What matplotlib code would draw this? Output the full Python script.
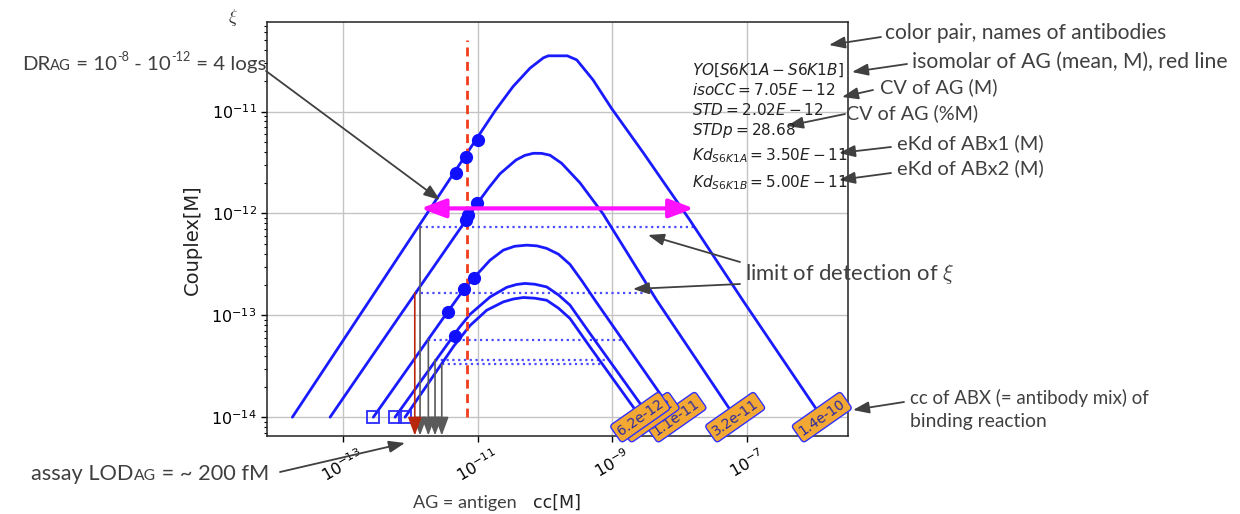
import numpy as np
import matplotlib
matplotlib.use("Agg")
import matplotlib.pyplot as plt
from matplotlib.ticker import FixedLocator, LogLocator, NullLocator

plt.rcParams["mathtext.rm"] = "Lato"
plt.rcParams["mathtext.it"] = "Lato:italic"
plt.rcParams["mathtext.bf"] = "Lato:bold"
plt.rcParams["mathtext.sf"] = "Lato"

# ---------------- data (log10 values) ----------------
curve_labels = ["1.4e-10", "3.2e-11", "1.1e-11", "8.2e-12", "6.2e-12"]

c1_lx = [-13.744, -11.748, -10.741, -10.474, -10.222, -10.025, -9.951, -9.670, -9.530,
         -9.289, -9.012, -8.548, -7.859, -7.062, -6.000, -5.898]
c1_ly = [-14.000, -12.000, -10.993, -10.754, -10.573, -10.472, -10.452, -10.452, -10.492,
         -10.688, -10.970, -11.400, -12.060, -12.860, -13.901, -14.000]

c2_lx = [-13.185, -12.200, -11.170, -11.003, -10.830, -10.667, -10.430, -10.300, -10.172,
         -10.050, -9.926, -9.754, -9.481, -9.144, -8.345, -7.284, -7.182]
c2_ly = [-14.000, -13.050, -12.065, -11.901, -11.745, -11.610, -11.475, -11.430, -11.409,
         -11.410, -11.428, -11.507, -11.700, -12.000, -12.852, -13.901, -14.000]

c3_lx = [-12.544, -11.444, -11.200, -11.059, -10.815, -10.618, -10.450, -10.271, -10.120,
         -9.975, -9.800, -9.630, -9.450, -9.259, -8.296, -8.053]
c3_ly = [-14.000, -12.967, -12.743, -12.635, -12.459, -12.360, -12.322, -12.311, -12.318,
         -12.343, -12.400, -12.500, -12.665, -12.852, -13.769, -14.000]

c4_lx = [-12.222, -11.270, -11.111, -10.815, -10.567, -10.420, -10.296, -10.150, -9.975,
         -9.800, -9.630, -9.333, -8.593, -8.450]
c4_ly = [-14.000, -13.120, -12.990, -12.820, -12.725, -12.697, -12.687, -12.695, -12.721,
         -12.800, -12.900, -13.179, -13.864, -14.000]

c5_lx = [-12.074, -11.350, -11.111, -10.864, -10.618, -10.470, -10.321, -10.150, -9.975,
         -9.800, -9.630, -9.333, -8.692, -8.590]
c5_ly = [-14.000, -13.300, -13.100, -12.950, -12.868, -12.840, -12.825, -12.832, -12.852,
         -12.930, -13.031, -13.311, -13.901, -14.000]

# filled markers (isomolar points) and open squares (curve starts)
dot_lx = [-11.321, -11.173, -10.987, -11.170, -11.136, -11.003, -11.444, -11.200, -11.059, -11.333]
dot_ly = [-11.606, -11.448, -11.279, -12.065, -12.016, -11.901, -12.967, -12.743, -12.635, -13.205]
sq_lx = [-12.544, -12.222, -12.074]
sq_ly = [-14.0, -14.0, -14.0]

# limit-of-detection levels and their crossings
lod_ly = [-12.131, -12.780, -13.238, -13.435, -13.480]
lod_left = [-11.852, -11.930, -11.729, -11.630, -11.530]
lod_right = [-7.757, -8.501, -8.855, -9.080, -9.144]

# dynamic range arrow
dr_lx = [-11.841, -7.794]
dr_ly = -11.950

# statistics
pair_name = "YO[S6K1A-S6K1B]"
iso_cc = 7.05e-12
iso_top_ly = -10.295
std_cc = 2.02e-12
std_p = 28.68
kd_a = 3.50e-11
kd_b = 5.00e-11

x_ticks_log = [-13, -11, -9, -7]
y_ticks_log = [-14, -13, -12, -11]

# ---------------- figure ----------------
W, H = 1240, 514
fig = plt.figure(figsize=(W / 100, H / 100), dpi=100)
L, R, T, B = 267, 848, 22, 435.5
ax = fig.add_axes([L / W, 1 - B / H, (R - L) / W, (B - T) / H])
ax.set_xscale("log")
ax.set_yscale("log")
ax.set_xlim(10 ** -14.12, 10 ** -5.51)
ax.set_ylim(10 ** -14.18, 10 ** -10.12)

ax.xaxis.set_major_locator(FixedLocator(10.0 ** np.array(x_ticks_log)))
ax.xaxis.set_minor_locator(NullLocator())
ax.yaxis.set_major_locator(FixedLocator(10.0 ** np.array(y_ticks_log)))
ax.yaxis.set_minor_locator(LogLocator(base=10, subs=np.arange(2, 10), numticks=20))
ax.tick_params(axis="both", which="major", labelsize=11.5, length=4, width=1)
ax.tick_params(axis="y", which="minor", length=2.5, width=0.8)
ax.tick_params(axis="x", labelrotation=30)
ax.grid(True, which="major", color="#c4c4c4", lw=1.0)
ax.set_axisbelow(True)
for s in ax.spines.values():
    s.set_linewidth(1.1)
    s.set_color("#222222")

BLUE = "#1a1aff"
curves = [(c1_lx, c1_ly), (c2_lx, c2_ly), (c3_lx, c3_ly), (c4_lx, c4_ly), (c5_lx, c5_ly)]
for i, ((lx, ly), lab) in enumerate(zip(curves, curve_labels)):
    x = 10.0 ** np.array(lx)
    y = 10.0 ** np.array(ly)
    ax.plot(x, y, color=BLUE, lw=2.0, zorder=3, solid_capstyle="round")
    ax.text(x[-1], y[-1], lab, rotation=35, ha="center", va="center",
            rotation_mode="anchor", fontsize=10, color="#2e2aa0",
            bbox=dict(boxstyle="round,pad=0.25", fc="#f2a832", ec="#3030ff", lw=1.0),
            zorder=10 + i, clip_on=False)

# LOD dotted lines
ax.hlines(10.0 ** np.array(lod_ly), 10.0 ** np.array(lod_left), 10.0 ** np.array(lod_right),
          colors="#4a4aff", linestyles=(0, (1, 1.6)), lw=1.6, zorder=2)

# LOD arrows down to axis
for i, (xl, yl) in enumerate(zip(lod_left, lod_ly)):
    col = "#b8260c" if i == 1 else "#5a5a5a"
    ax.annotate("", xy=(10 ** xl, 0.0), xycoords=("data", "axes fraction"),
                xytext=(10 ** xl, 10 ** yl), textcoords="data",
                arrowprops=dict(arrowstyle="-|>,head_length=0.75,head_width=0.28",
                                color=col, lw=1.2, shrinkA=0, shrinkB=0, mutation_scale=15),
                zorder=6, annotation_clip=False)

# isomolar red dashed line
ax.plot([iso_cc, iso_cc], [1e-14, 10 ** iso_top_ly], color="#f23c1c", lw=2.0,
        ls=(0, (3.2, 2.0)), zorder=4)

# markers
ax.plot(10.0 ** np.array(dot_lx), 10.0 ** np.array(dot_ly), "o", color="#1010ff", ms=8.5, zorder=5)
ax.plot(10.0 ** np.array(sq_lx), 10.0 ** np.array(sq_ly), "s", mfc="none", mec="#2a2aff",
        ms=8, mew=1.3, zorder=5)

# dynamic range magenta double arrow
ax.annotate("", xy=(10 ** dr_lx[1], 10 ** dr_ly), xytext=(10 ** dr_lx[0], 10 ** dr_ly),
            arrowprops=dict(arrowstyle="<|-|>,head_length=1.0,head_width=0.38",
                            color="#ff10ff", lw=3.0, shrinkA=0, shrinkB=0, mutation_scale=15),
            zorder=7)

# statistics text block
stats = [
    (75, r"$%s$" % pair_name),
    (95, r"$isoCC=%s$" % f"{iso_cc:.2E}"),
    (115, r"$STD=%s$" % f"{std_cc:.2E}"),
    (135, r"$STDp=%.2f$" % std_p),
    (160, r"$Kd_{S6K1A}=%s$" % f"{kd_a:.2E}"),
    (187, r"$Kd_{S6K1B}=%s$" % f"{kd_b:.2E}"),
]
for yb, s in stats:
    fig.text(692 / W, 1 - yb / H, s, ha="left", va="baseline", fontsize=11,
             color="#222222", math_fontfamily="dejavusans")

# axis labels
ax.set_ylabel("Couplex[M]", fontsize=14, color="#222222")
ax.yaxis.set_label_coords((202 - L) / (R - L), 1 - (240 - T) / (B - T))
ax.set_xlabel("cc[M]", fontsize=12.5, color="#222222")
ax.xaxis.set_label_coords(0.5, (B - 494) / (B - T))
fig.text(233 / W, 1 - 18 / H, r"$\xi$", fontsize=13, ha="center", va="center",
         math_fontfamily="cm", color="#333333")

# ---------------- explanatory annotations ----------------
ANN = "#404040"
renderer = fig.canvas.get_renderer()


def pxy(x, y):
    return (x, H - y)


def note(text, x, y, width, ha="left", mff="custom"):
    t = fig.text(x / W, 1 - y / H, text, ha=ha, va="center", fontfamily="Lato",
                 math_fontfamily=mff, color=ANN, fontsize=14)
    w = t.get_window_extent(renderer).width
    t.set_fontsize(14 * width / w)
    return t


def compose(parts, x_right, y_base, width):
    """parts: (string, relative size, rise in em of main size) placed on one baseline."""
    base = 16.0
    texts, widths = [], []
    for s, rs, rr in parts:
        t = fig.text(0, 0, s, fontsize=base * rs, fontfamily="Lato", color=ANN,
                     ha="left", va="baseline")
        texts.append(t)
        widths.append(t.get_window_extent(renderer).width)
    k = width / sum(widths)
    main_px = base * k * 100 / 72
    x = x_right - width
    for t, w, (s, rs, rr) in zip(texts, widths, parts):
        t.set_fontsize(base * rs * k)
        t.set_position((x / W, 1 - (y_base - rr * main_px) / H))
        x += w * k


def arrow(x1, y1, x2, y2):
    ax.annotate("", xy=pxy(x2, y2), xycoords="figure pixels",
                xytext=pxy(x1, y1), textcoords="figure pixels",
                arrowprops=dict(arrowstyle="-|>,head_length=0.65,head_width=0.24",
                                color=ANN, lw=1.3, shrinkA=0, shrinkB=0, mutation_scale=15),
                annotation_clip=False, zorder=20)


note("color pair, names of antibodies", 885, 33, 283)
arrow(881, 37, 829, 45)
note("isomolar of AG (mean, M), red line", 912, 62, 317)
arrow(907, 64, 852, 72)
note("CV of AG (M)", 880, 87, 118)
arrow(873, 90, 842, 97)
note("CV of AG (%M)", 846, 113, 133)
arrow(845, 114, 787, 126)
note("eKd of ABx1 (M)", 897, 143, 147)
arrow(891, 147, 839, 153)
note("eKd of ABx2 (M)", 897, 168, 147)
arrow(891, 173, 839, 180)
note(r"limit of detection of $\xi$", 745, 274, 210, mff="cm")
arrow(740, 262, 648, 235)
arrow(740, 284, 633, 289)
note("cc of ABX (= antibody mix) of", 910, 398, 241)
note("binding reaction", 910, 422, 137)
arrow(904, 402, 853, 410)

compose([("DR", 1.0, 0.0), ("AG", 0.72, 0.0), (" = 10", 1.0, 0.0), ("-8", 0.62, 0.42),
         (" - 10", 1.0, 0.0), ("-12", 0.62, 0.42), (" = 4 logs", 1.0, 0.0)],
        266, 70, 244)
arrow(266, 71, 440, 200)
compose([("assay LOD", 1.0, 0.0), ("AG", 0.72, 0.0), (" = ~ 200 fM", 1.0, 0.0)],
        269, 480, 238)
arrow(280, 472, 405, 443)
note("AG = antigen", 413, 503, 104)

fig.savefig("out.png", dpi=100, facecolor="white")
